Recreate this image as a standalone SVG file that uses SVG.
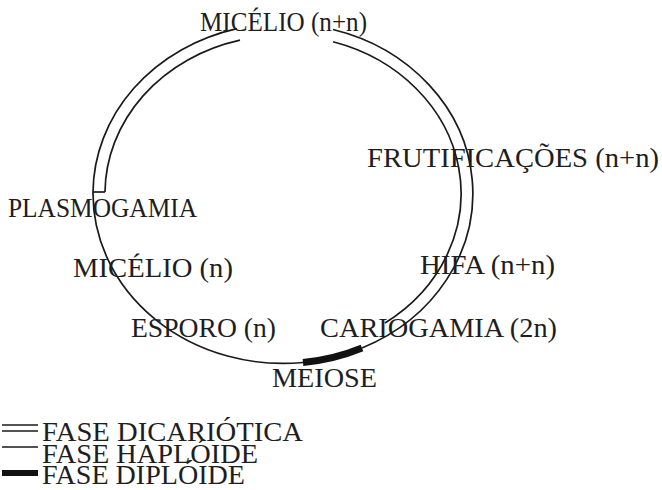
<svg xmlns="http://www.w3.org/2000/svg" width="662" height="490" viewBox="0 0 662 490">
<style>
text{font-family:"Liberation Serif","Times New Roman",serif;font-size:28px;fill:#1e1e1e}
.ln{fill:none;stroke:#1a1a1a;stroke-width:1.7}
.thick{fill:none;stroke:#111;stroke-width:7}
</style>
<rect width="662" height="490" fill="#fff"/>
<g id="connectors">
<path class="ln" d="M93,192 A190,170 0 0 1 237,28.6"/>
<path class="ln" d="M105,192 A178,158 0 0 1 240,40.2"/>
<path class="ln" d="M93,192 L105,192"/>
<path class="ln" d="M333,29.5 A190,170 0 0 1 362,348"/>
<path class="ln" d="M333,41.8 A178,158 0 0 1 385,323"/>
<path class="ln" d="M93,192 A190,170 0 0 0 303,362.5"/>
<path class="thick" d="M362,348 A190,170 0 0 1 303,362.5"/>
</g>
<g id="micelio-nn"><text x="200" y="31" textLength="167" lengthAdjust="spacingAndGlyphs">MICÉLIO (n+n)</text></g>
<g id="frutificacoes"><text x="367" y="167" textLength="292" lengthAdjust="spacingAndGlyphs">FRUTIFICAÇÕES (n+n)</text></g>
<g id="plasmogamia"><text x="8" y="217" textLength="189" lengthAdjust="spacingAndGlyphs">PLASMOGAMIA</text></g>
<g id="micelio-n"><text x="73" y="277" textLength="160" lengthAdjust="spacingAndGlyphs">MICÉLIO (n)</text></g>
<g id="hifa"><text x="420" y="274" textLength="135" lengthAdjust="spacingAndGlyphs">HIFA (n+n)</text></g>
<g id="esporo"><text x="131" y="337" textLength="145" lengthAdjust="spacingAndGlyphs">ESPORO (n)</text></g>
<g id="cariogamia"><text x="320" y="337" textLength="237" lengthAdjust="spacingAndGlyphs">CARIOGAMIA (2n)</text></g>
<g id="meiose"><text x="272" y="387" textLength="105" lengthAdjust="spacingAndGlyphs">MEIOSE</text></g>
<g id="legend">
<line class="ln" x1="2" y1="425" x2="38" y2="425"/>
<line class="ln" x1="2" y1="431" x2="38" y2="431"/>
<text x="42" y="441" textLength="261" lengthAdjust="spacingAndGlyphs">FASE DICARIÓTICA</text>
<line class="ln" x1="2" y1="447" x2="38" y2="447"/>
<text x="42" y="463" textLength="216" lengthAdjust="spacingAndGlyphs">FASE HAPLÓIDE</text>
<line x1="2" y1="473" x2="38" y2="473" stroke="#111" stroke-width="6"/>
<text x="42" y="484" textLength="203" lengthAdjust="spacingAndGlyphs">FASE DIPLÓIDE</text>
</g>
</svg>
